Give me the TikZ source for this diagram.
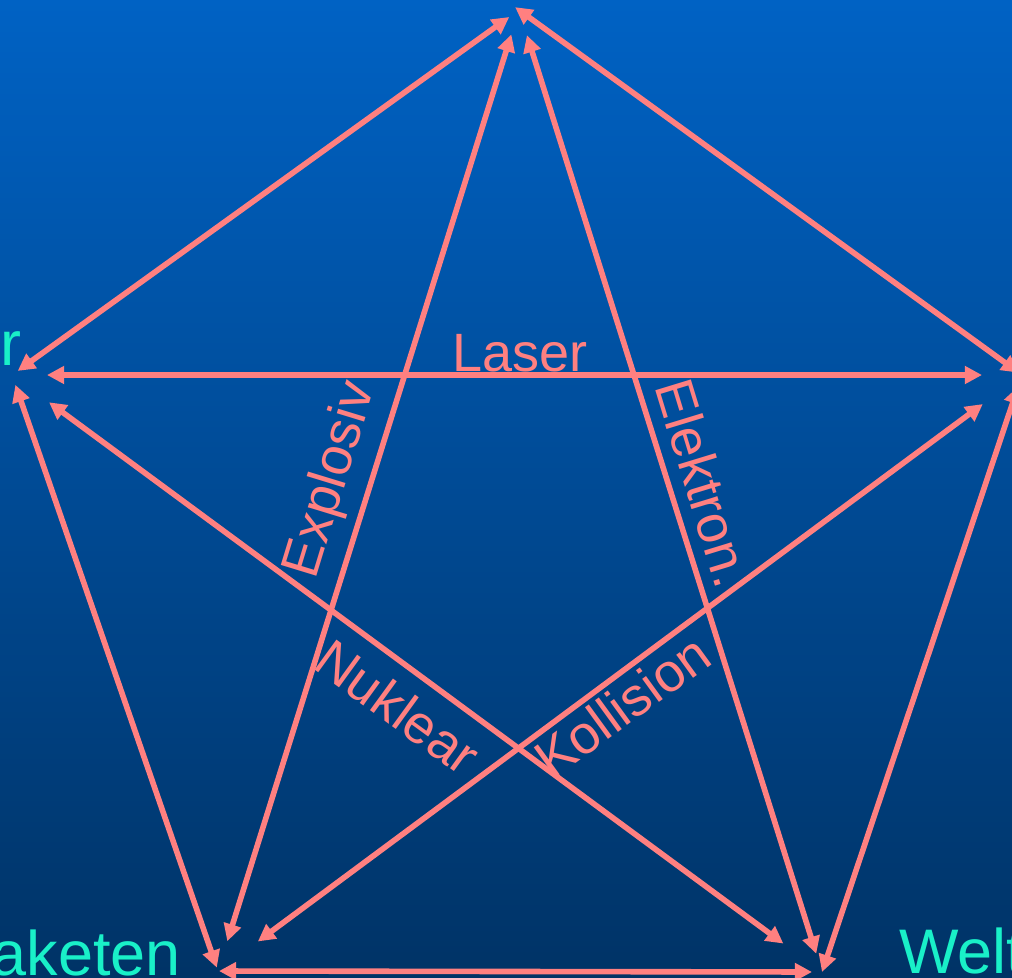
\documentclass[tikz,border=0pt]{standalone}
\usepackage{fontspec}
\setmainfont{Liberation Sans}
\usetikzlibrary{arrows.meta}
\definecolor{bgoben}{RGB}{0, 98, 196}
\definecolor{bgunten}{RGB}{0, 51, 102}
\definecolor{lachs}{RGB}{255, 128, 128}
\definecolor{tuerkis}{RGB}{25, 240, 200}

\begin{document}
\begin{tikzpicture}[x=0.25mm, y=-0.25mm,
    pfeil/.style={draw=lachs, line width=1.4mm,
        {Triangle[length=4.3mm, width=4.3mm]}-{Triangle[length=4.3mm, width=4.3mm]}},
    beschr/.style={text=lachs, inner sep=0pt, font=\fontsize{38.4}{46}\selectfont},
    ecke/.style={text=tuerkis, inner sep=0pt, font=\fontsize{44.8}{54}\selectfont}]
        % Hintergrund (Verlauf) und Rahmen
        \shade[top color=bgoben, bottom color=bgunten] (0,0) rectangle (1012,977);
        \useasboundingbox (0,0) rectangle (1012,977);
        % Ecken des Fuenfecks
        \coordinate (top) at (519,10);
        \coordinate (links) at (12,375);
        \coordinate (rechts) at (1022,375);
        \coordinate (ulinks) at (218,971);
        \coordinate (urechts) at (822,972);
        % Beschriftung der Ecken
        \node[ecke, anchor=base west] (lr) at (0,365) {r};
        \node[ecke, anchor=base east] (lrak) at (181,975) {aketen};
        \node[ecke, anchor=base west] (lwelt) at (899,973) {Welt};
        % Kanten des Fuenfecks
        \draw[pfeil, shorten <=1.75mm, shorten >=3mm] (links) -- (top);
        \draw[pfeil, shorten <=-1.2mm, shorten >=1mm] (top) -- (rechts);
        \draw[pfeil, shorten <=2.6mm, shorten >=0.9mm] (links) -- (ulinks);
        \draw[pfeil, shorten <=0.25mm, shorten >=2.5mm] (ulinks) -- (urechts);
        \draw[pfeil, shorten <=0mm, shorten >=3mm] (urechts) -- (rechts);
        % Diagonalen (Stern)
        \draw[pfeil, shorten <=8.75mm, shorten >=10mm] (links) -- (rechts);
        \draw[pfeil, shorten <=11.5mm, shorten >=12mm] (links) -- (urechts);
        \draw[pfeil, shorten <=7.8mm, shorten >=6.4mm] (ulinks) -- (top);
        \draw[pfeil, shorten <=12.4mm, shorten >=12.2mm] (ulinks) -- (rechts);
        \draw[pfeil, shorten <=4.8mm, shorten >=6.6mm] (urechts) -- (top);
        % Beschriftung der Diagonalen
        \node[beschr, anchor=base] (laser) at (520,371) {Laser};
        \node[beschr, rotate=73] (explosiv) at (332,480) {Explosiv};
        \node[beschr, rotate=-73] (elektron) at (704,483) {Elektron.};
        \node[beschr, rotate=-36] (nuklear) at (398,707) {Nuklear};
        \node[beschr, rotate=36] (kollision) at (622,706) {Kollision};
    \end{tikzpicture}
\end{document}
